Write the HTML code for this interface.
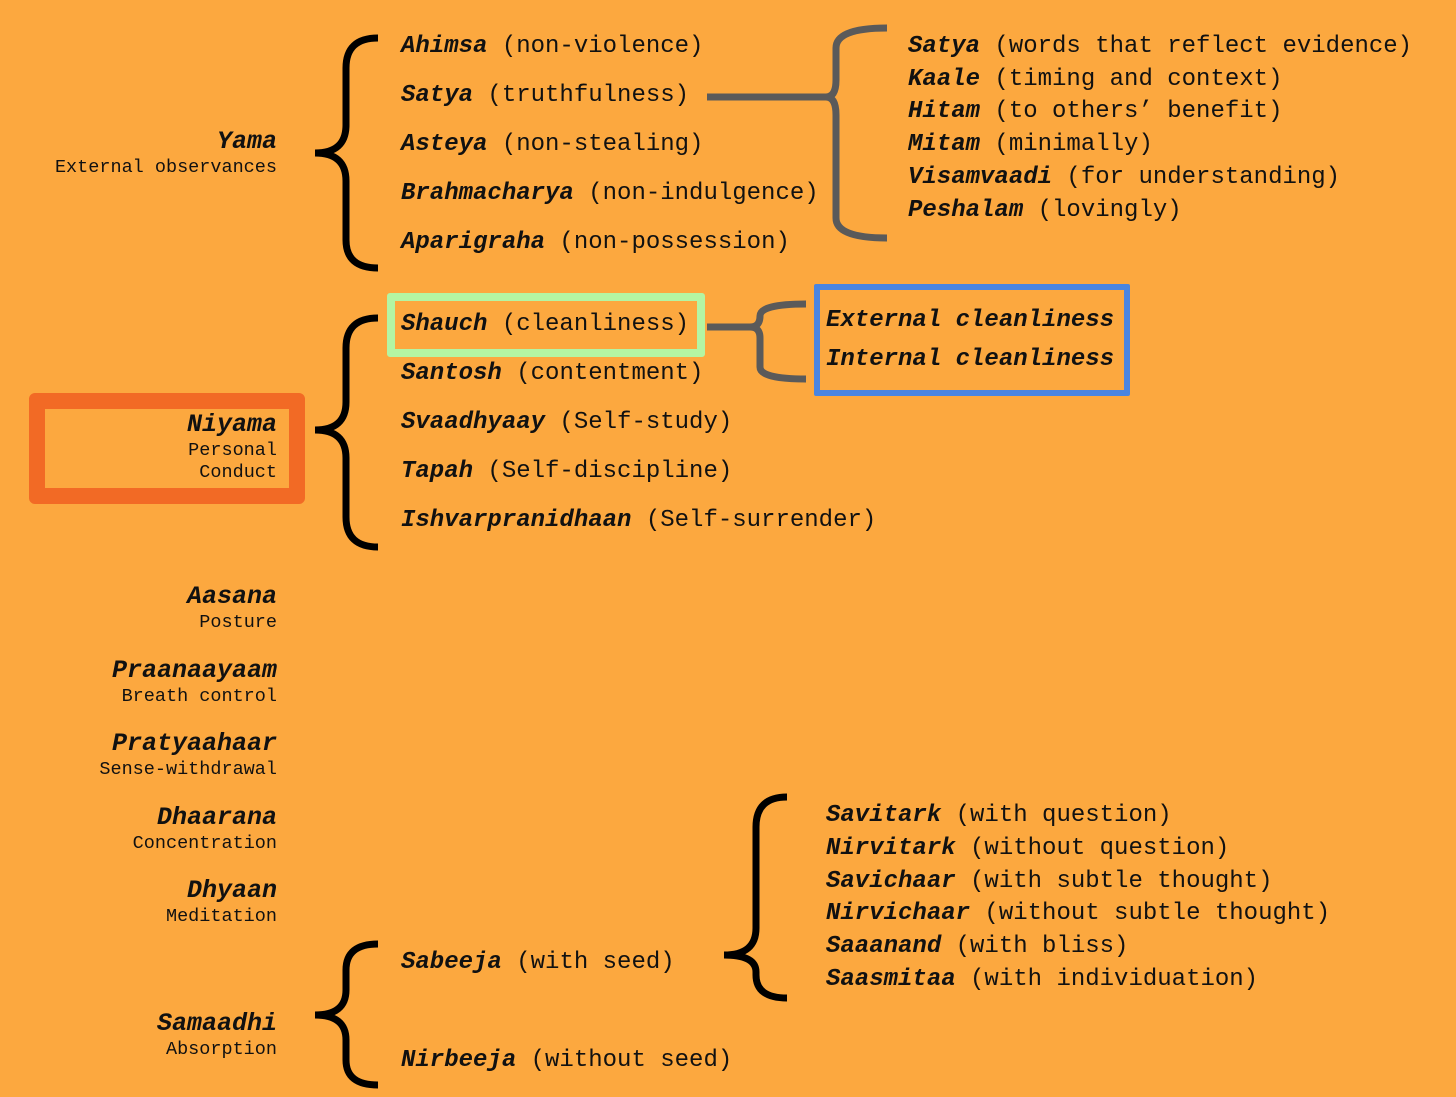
<!DOCTYPE html>
<html><head><meta charset="utf-8"><style>
html,body{margin:0;padding:0}
body{width:1456px;height:1097px;background:#FCA83F;position:relative;overflow:hidden;font-family:"Liberation Mono",monospace;color:#111}
.t{position:absolute;font-size:24px;line-height:30px;white-space:pre}
.t b{font-style:italic;font-weight:bold}
.l{position:absolute;right:1179px;text-align:right;white-space:pre}
.h{font-size:25px;font-weight:bold;font-style:italic;line-height:30px}
.s{font-size:18.5px;line-height:22px}
</style></head><body>
<div style="position:absolute;left:29px;top:393px;width:244px;height:79px;border:16px solid #F26A25;border-radius:6px"></div>
<div style="position:absolute;left:387px;top:293px;width:302px;height:48px;border:8px solid #B4F5A3;border-radius:3px"></div>
<div style="position:absolute;left:814px;top:284px;width:304px;height:100px;border:6px solid #4A85E0;border-radius:2px"></div>
<svg width="1456" height="1097" style="position:absolute;left:0;top:0" fill="none" stroke-linecap="butt">
<g stroke="#000" stroke-width="7">
<path d="M378 38 Q346 38 346 68 L346 125 Q346 153 315 153 Q346 153 346 181 L346 240 Q346 268 378 268"/>
<path d="M378 318 Q346 318 346 348 L346 402 Q346 430 315 430 Q346 430 346 458 L346 517 Q346 547 378 547"/>
<path d="M378 944 Q346 944 346 970 L346 990 Q346 1015 315 1015 Q346 1015 346 1040 L346 1060 Q346 1085 378 1085"/>
<path d="M787 797 Q756 797 756 827 L756 928 Q756 955 724 955 Q756 955 756 972 L756 975 Q756 998 787 998"/>
</g>
<g stroke="#5A5A5A" stroke-width="7">
<path d="M707 97 L826 97 Q836 97 836 80 L836 48 Q836 28 887 28"/>
<path d="M826 97 Q836 97 836 115 L836 218 Q836 238 887 238"/>
<path d="M707 327 L750 327 Q760 327 760 316 Q760 304 806 304"/>
<path d="M750 327 Q760 327 760 338 L760 367 Q760 379 806 379"/>
</g>
</svg>
<div class="l" style="top:127px"><div class="h">Yama</div><div class="s">External observances</div></div>
<div class="l" style="top:410px"><div class="h">Niyama</div><div class="s">Personal<br>Conduct</div></div>
<div class="l" style="top:582px"><div class="h">Aasana</div><div class="s">Posture</div></div>
<div class="l" style="top:656px"><div class="h">Praanaayaam</div><div class="s">Breath control</div></div>
<div class="l" style="top:729px"><div class="h">Pratyaahaar</div><div class="s">Sense-withdrawal</div></div>
<div class="l" style="top:803px"><div class="h">Dhaarana</div><div class="s">Concentration</div></div>
<div class="l" style="top:876px"><div class="h">Dhyaan</div><div class="s">Meditation</div></div>
<div class="l" style="top:1009px"><div class="h">Samaadhi</div><div class="s">Absorption</div></div>

<div class="t" style="left:401px;top:32px"><b>Ahimsa</b> (non-violence)</div>
<div class="t" style="left:401px;top:81px"><b>Satya</b> (truthfulness)</div>
<div class="t" style="left:401px;top:130px"><b>Asteya</b> (non-stealing)</div>
<div class="t" style="left:401px;top:179px"><b>Brahmacharya</b> (non-indulgence)</div>
<div class="t" style="left:401px;top:228px"><b>Aparigraha</b> (non-possession)</div>

<div class="t" style="left:908px;top:32px"><b>Satya</b> (words that reflect evidence)</div>
<div class="t" style="left:908px;top:65px"><b>Kaale</b> (timing and context)</div>
<div class="t" style="left:908px;top:97px"><b>Hitam</b> (to others’ benefit)</div>
<div class="t" style="left:908px;top:130px"><b>Mitam</b> (minimally)</div>
<div class="t" style="left:908px;top:163px"><b>Visamvaadi</b> (for understanding)</div>
<div class="t" style="left:908px;top:196px"><b>Peshalam</b> (lovingly)</div>

<div class="t" style="left:401px;top:310px"><b>Shauch</b> (cleanliness)</div>
<div class="t" style="left:401px;top:359px"><b>Santosh</b> (contentment)</div>
<div class="t" style="left:401px;top:408px"><b>Svaadhyaay</b> (Self-study)</div>
<div class="t" style="left:401px;top:457px"><b>Tapah</b> (Self-discipline)</div>
<div class="t" style="left:401px;top:506px"><b>Ishvarpranidhaan</b> (Self-surrender)</div>

<div class="t" style="left:826px;top:306px"><b>External cleanliness</b></div>
<div class="t" style="left:826px;top:345px"><b>Internal cleanliness</b></div>

<div class="t" style="left:826px;top:801px"><b>Savitark</b> (with question)</div>
<div class="t" style="left:826px;top:834px"><b>Nirvitark</b> (without question)</div>
<div class="t" style="left:826px;top:867px"><b>Savichaar</b> (with subtle thought)</div>
<div class="t" style="left:826px;top:899px"><b>Nirvichaar</b> (without subtle thought)</div>
<div class="t" style="left:826px;top:932px"><b>Saaanand</b> (with bliss)</div>
<div class="t" style="left:826px;top:965px"><b>Saasmitaa</b> (with individuation)</div>

<div class="t" style="left:401px;top:948px"><b>Sabeeja</b> (with seed)</div>
<div class="t" style="left:401px;top:1046px"><b>Nirbeeja</b> (without seed)</div>
</body></html>
